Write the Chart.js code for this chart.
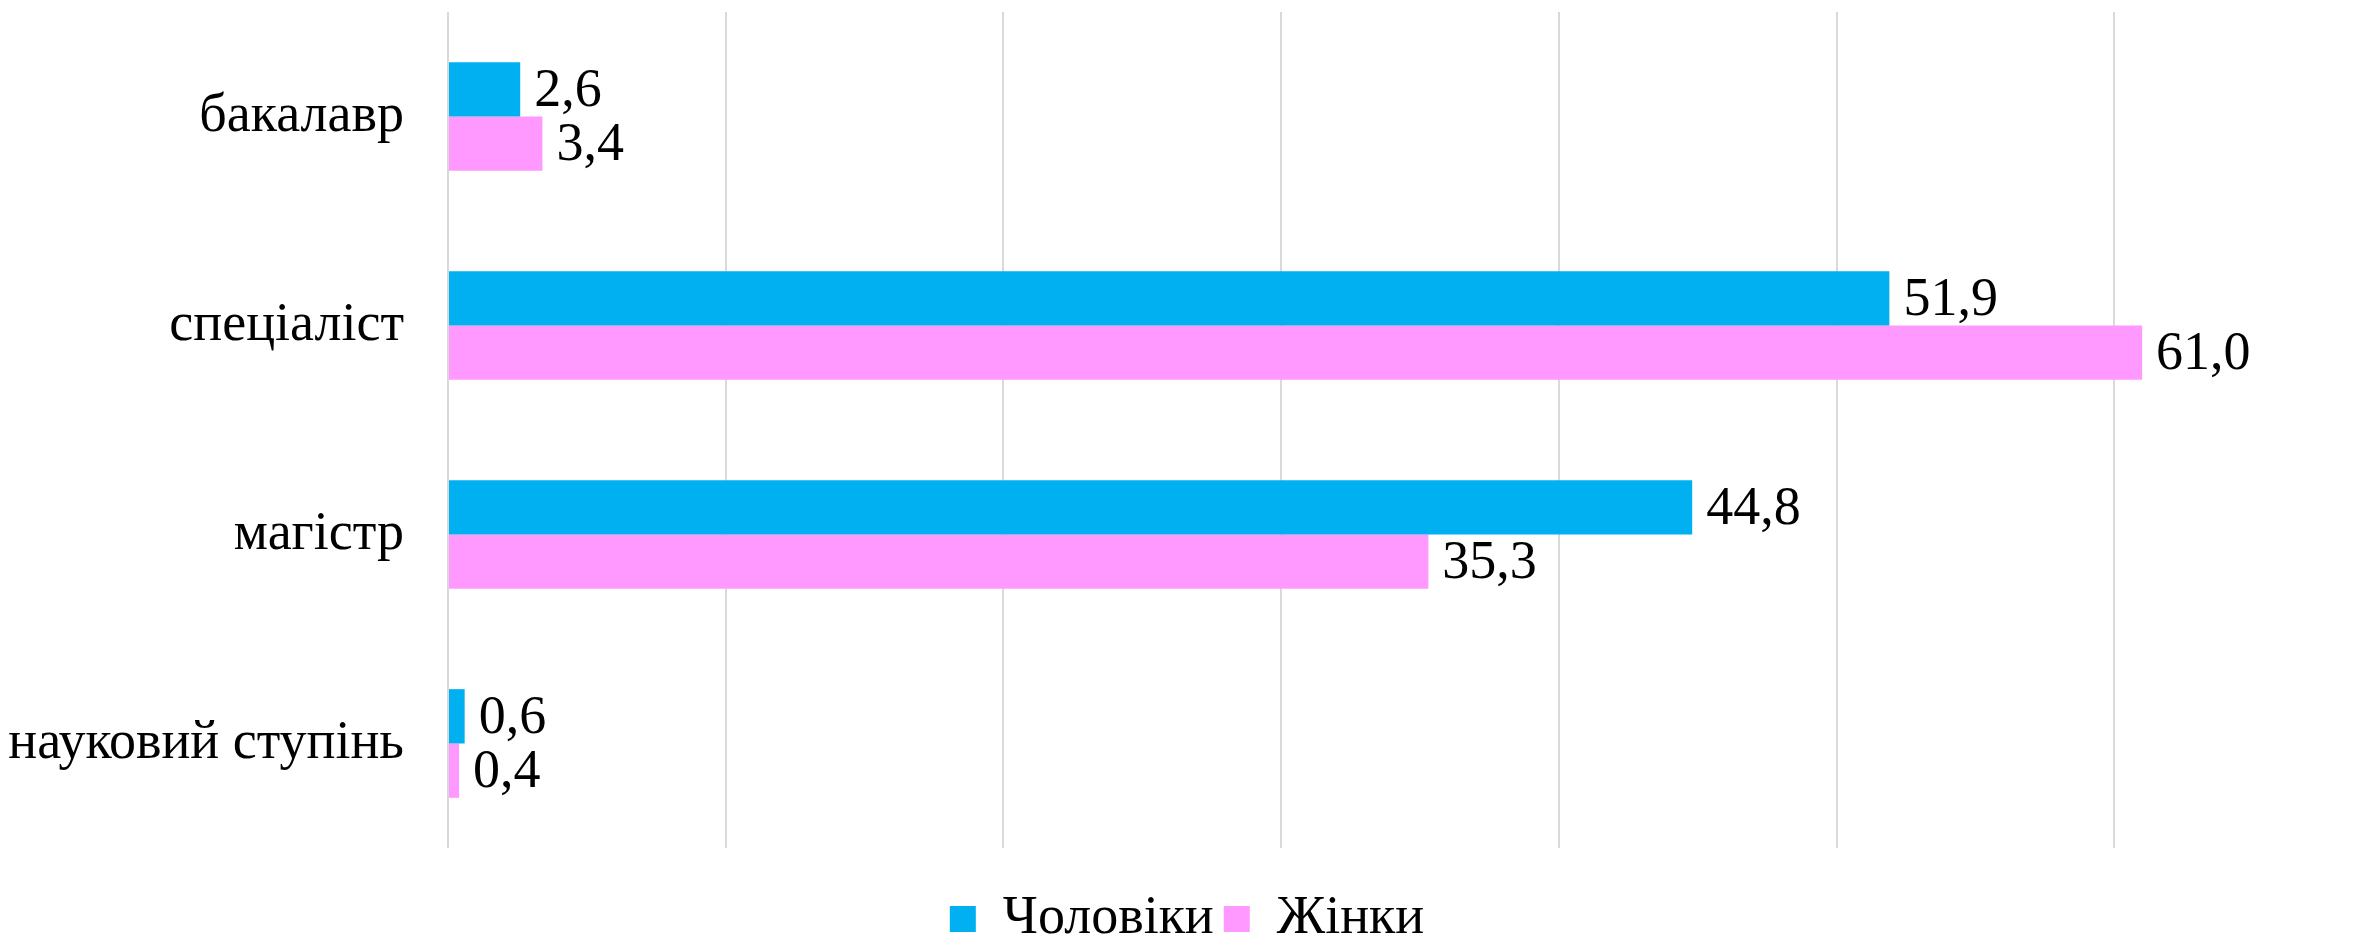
<!DOCTYPE html>
<html>
<head>
<meta charset="utf-8">
<script src="https://cdn.jsdelivr.net/npm/chart.js@4"></script>
<style>
  html, body { margin: 0; padding: 0; background: #fff; overflow: hidden; }
  #wrap { width: 2374px; height: 937px; overflow: hidden; }
</style>
</head>
<body>
<div id="wrap"><canvas id="chart" width="2374" height="956"></canvas></div>
<script>
// categories and series
var categories = ['бакалавр', 'спеціаліст', 'магістр', 'науковий ступінь'];
var seriesNames = ['Чоловіки', 'Жінки'];
var menValues = [2.6, 51.9, 44.8, 0.6];
var womenValues = [3.4, 61.0, 35.3, 0.4];

var FONT = '"Liberation Serif", "Times New Roman", serif';

// value labels at the end of each bar, comma as decimal mark
var valueLabels = {
    id: 'valueLabels',
    afterDatasetsDraw: function (chart) {
        var ctx = chart.ctx;
        ctx.save();
        ctx.font = '54px ' + FONT;
        ctx.fillStyle = '#000';
        ctx.textAlign = 'left';
        ctx.textBaseline = 'middle';
        chart.data.datasets.forEach(function (ds, i) {
            chart.getDatasetMeta(i).data.forEach(function (bar, j) {
                var txt = ds.data[j].toFixed(1).replace('.', ',');
                ctx.fillText(txt, bar.x + 14, bar.y + 2);
            });
        });
        ctx.restore();
    }
};

new Chart(document.getElementById('chart').getContext('2d'), {
    type: 'bar',
    data: {
        labels: categories,
        datasets: [{
            label: seriesNames[0],
            data: menValues,
            backgroundColor: '#00B0F0',
            categoryPercentage: 0.52,
            barPercentage: 1
        }, {
            label: seriesNames[1],
            data: womenValues,
            backgroundColor: '#FF99FF',
            categoryPercentage: 0.52,
            barPercentage: 1
        }]
    },
    options: {
        indexAxis: 'y',
        responsive: false,
        animation: false,
        layout: { padding: { top: 12, left: 0, right: 0, bottom: 0 } },
        plugins: {
            legend: {
                position: 'bottom',
                labels: {
                    font: { family: FONT, size: 54 },
                    color: '#000',
                    boxWidth: 26,
                    boxHeight: 26,
                    padding: 10
                }
            },
            tooltip: { enabled: false }
        },
        scales: {
            x: {
                min: 0,
                max: 69.35,
                border: { display: false },
                grid: { color: '#d9d9d9', lineWidth: 2, drawTicks: false },
                ticks: { stepSize: 10, display: false, includeBounds: false },
                afterFit: function (s) { s.height = 34; s.paddingLeft = 0; s.paddingRight = 0; }
            },
            y: {
                border: { display: false },
                grid: { display: false, drawTicks: false },
                ticks: {
                    font: { family: FONT, size: 54 },
                    color: '#000',
                    padding: 44
                },
                afterFit: function (s) { s.width = 448; s.paddingTop = 0; s.paddingBottom = 0; }
            }
        }
    },
    plugins: [valueLabels]
});
</script>
</body>
</html>
